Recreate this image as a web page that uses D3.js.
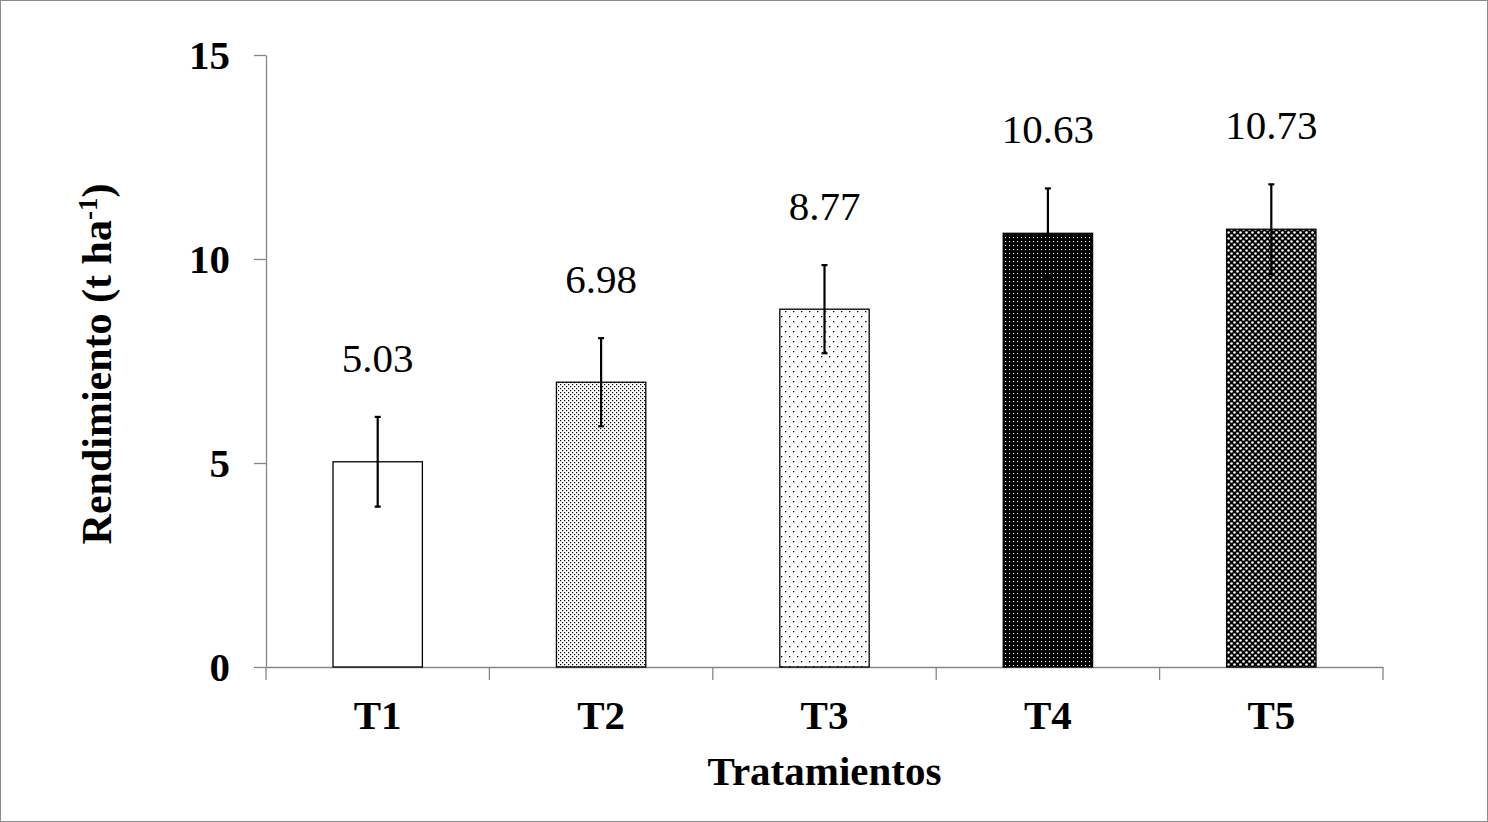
<!DOCTYPE html>
<meta charset="utf-8">
<style>
  body { margin: 0; background: #fff; }
  text { font-family: "Liberation Serif", "Times New Roman", serif; }
</style>
<script src="https://d3js.org/d3.v7.min.js"></script>
<div id="chart"></div>
<script>
// data
var categories = ["T1", "T2", "T3", "T4", "T5"];
var values = [5.03, 6.98, 8.77, 10.63, 10.73];
var errors = [1.1, 1.08, 1.08, 1.1, 1.1];
var valueLabels = ["5.03", "6.98", "8.77", "10.63", "10.73"];
var yTicks = [0, 5, 10, 15];
var patternIds = ["none", "dense", "sparse", "blackdots", "checker"];

var W = 1488, H = 822;
var plotLeft = 266, plotRight = 1383, plotTop = 55, plotBottom = 667;

var svg = d3.select("#chart").append("svg")
    .attr("width", W)
    .attr("height", H);

// patterns
var defs = svg.append("defs");

var p2 = defs.append("pattern").attr("id", "dense")
    .attr("patternUnits", "userSpaceOnUse").attr("width", 4).attr("height", 4);
p2.append("rect").attr("width", 4).attr("height", 4).attr("fill", "#fff");
p2.append("rect").attr("x", 0).attr("y", 0).attr("width", 1.2).attr("height", 1.2).attr("fill", "#000");
p2.append("rect").attr("x", 2).attr("y", 2).attr("width", 1.2).attr("height", 1.2).attr("fill", "#000");

var p3 = defs.append("pattern").attr("id", "sparse")
    .attr("patternUnits", "userSpaceOnUse").attr("width", 8).attr("height", 10);
p3.append("rect").attr("width", 8).attr("height", 10).attr("fill", "#fff");
p3.append("rect").attr("x", 1).attr("y", 1).attr("width", 1.3).attr("height", 1.3).attr("fill", "#000");
p3.append("rect").attr("x", 5).attr("y", 6).attr("width", 1.3).attr("height", 1.3).attr("fill", "#000");

var p4 = defs.append("pattern").attr("id", "blackdots")
    .attr("patternUnits", "userSpaceOnUse").attr("width", 4).attr("height", 4);
p4.append("rect").attr("width", 4).attr("height", 4).attr("fill", "#000");
p4.append("rect").attr("x", 1).attr("y", 1).attr("width", 1.1).attr("height", 1.1).attr("fill", "#fff");

var p5 = defs.append("pattern").attr("id", "checker")
    .attr("patternUnits", "userSpaceOnUse").attr("width", 6).attr("height", 6);
p5.append("rect").attr("width", 6).attr("height", 6).attr("fill", "#000");
p5.append("circle").attr("cx", 1.5).attr("cy", 1.5).attr("r", 1.3).attr("fill", "#fff");
p5.append("circle").attr("cx", 4.5).attr("cy", 4.5).attr("r", 1.3).attr("fill", "#fff");

// outer frame
svg.append("rect")
    .attr("x", 0.5).attr("y", 0.5)
    .attr("width", W - 1).attr("height", H - 1)
    .attr("fill", "none").attr("stroke", "#8c8c8c");

var x = d3.scaleBand()
    .domain(categories)
    .range([plotLeft, plotRight])
    .paddingInner(0.6)
    .paddingOuter(0.3);

var y = d3.scaleLinear()
    .domain([0, 15])
    .range([plotBottom, plotTop]);

// y axis
var yAxis = svg.append("g")
    .attr("transform", "translate(" + plotLeft + ",0)")
    .call(d3.axisLeft(y).tickValues(yTicks).tickSize(12).tickPadding(24).tickSizeOuter(0));
yAxis.select(".domain").attr("stroke", "#868686").attr("stroke-width", 1.3);
yAxis.selectAll(".tick line").attr("stroke", "#868686").attr("stroke-width", 1.3);
yAxis.selectAll(".tick text")
    .attr("font-family", "Liberation Serif")
    .attr("font-size", 41)
    .attr("font-weight", "bold")
    .attr("fill", "#000");

// x axis: baseline and ticks between categories
var xAxis = svg.append("g")
    .attr("transform", "translate(0," + plotBottom + ")")
    .call(d3.axisBottom(x).tickSize(0).tickPadding(33).tickSizeOuter(0));
xAxis.select(".domain").attr("stroke", "#868686").attr("stroke-width", 1.3);
xAxis.selectAll(".tick text")
    .attr("font-family", "Liberation Serif")
    .attr("font-size", 41)
    .attr("font-weight", "bold")
    .attr("fill", "#000");

var boundaries = d3.range(categories.length + 1);
xAxis.selectAll(".sep")
    .data(boundaries)
    .enter()
    .append("line")
      .attr("class", "sep")
      .attr("x1", function(i) { return plotLeft + i * x.step(); })
      .attr("x2", function(i) { return plotLeft + i * x.step(); })
      .attr("y1", 0)
      .attr("y2", 13)
      .attr("stroke", "#868686")
      .attr("stroke-width", 1.3);

var data = categories.map(function(c, i) {
  return { cat: c, value: values[i], err: errors[i], label: valueLabels[i], pat: patternIds[i] };
});

// bars
svg.selectAll(".bar")
  .data(data)
  .enter()
  .append("rect")
    .attr("class", "bar")
    .attr("x", function(d) { return x(d.cat); })
    .attr("y", function(d) { return y(d.value); })
    .attr("width", x.bandwidth())
    .attr("height", function(d) { return y(0) - y(d.value); })
    .attr("fill", function(d) { return d.pat == "none" ? "#fff" : "url(#" + d.pat + ")"; })
    .attr("stroke", "#000")
    .attr("stroke-width", 1.3);

// error bars
var eb = svg.selectAll(".err")
  .data(data)
  .enter()
  .append("g")
    .attr("class", "err");
eb.append("line")
    .attr("x1", function(d) { return x(d.cat) + x.bandwidth() / 2; })
    .attr("x2", function(d) { return x(d.cat) + x.bandwidth() / 2; })
    .attr("y1", function(d) { return y(d.value + d.err); })
    .attr("y2", function(d) { return y(d.value - d.err); })
    .attr("stroke", "#000")
    .attr("stroke-width", 2.2);
eb.append("line")
    .attr("x1", function(d) { return x(d.cat) + x.bandwidth() / 2 - 3; })
    .attr("x2", function(d) { return x(d.cat) + x.bandwidth() / 2 + 3; })
    .attr("y1", function(d) { return y(d.value + d.err); })
    .attr("y2", function(d) { return y(d.value + d.err); })
    .attr("stroke", "#000")
    .attr("stroke-width", 2.2);
eb.append("line")
    .attr("x1", function(d) { return x(d.cat) + x.bandwidth() / 2 - 3; })
    .attr("x2", function(d) { return x(d.cat) + x.bandwidth() / 2 + 3; })
    .attr("y1", function(d) { return y(d.value - d.err); })
    .attr("y2", function(d) { return y(d.value - d.err); })
    .attr("stroke", "#000")
    .attr("stroke-width", 2.2);

// value labels
svg.selectAll(".vlabel")
  .data(data)
  .enter()
  .append("text")
    .attr("class", "vlabel")
    .attr("x", function(d) { return x(d.cat) + x.bandwidth() / 2; })
    .attr("y", function(d) { return y(d.value + d.err) - 45; })
    .attr("text-anchor", "middle")
    .attr("font-size", 41)
    .attr("fill", "#000")
    .text(function(d) { return d.label; });

// axis titles
svg.append("text")
    .attr("x", (plotLeft + plotRight) / 2)
    .attr("y", 785)
    .attr("text-anchor", "middle")
    .attr("font-size", 41)
    .attr("font-weight", "bold")
    .text("Tratamientos");

var yt = svg.append("text")
    .attr("transform", "translate(111," + ((plotTop + plotBottom) / 2 + 3) + ") rotate(-90)")
    .attr("text-anchor", "middle")
    .attr("font-size", 42)
    .attr("font-weight", "bold");
yt.append("tspan").text("Rendimiento (t ha");
yt.append("tspan").attr("dy", -14).attr("font-size", 27).text("-1");
yt.append("tspan").attr("dy", 14).text(")");
</script>
